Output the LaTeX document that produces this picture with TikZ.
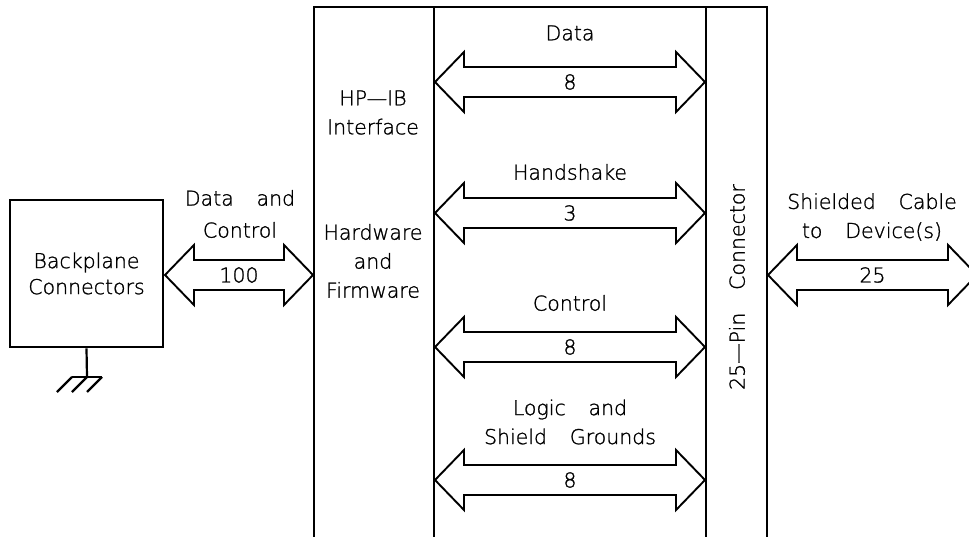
\documentclass[tikz,border=0pt]{standalone}
\usepackage{fontspec}
\IfFontExistsTF{DejaVu Sans ExtraLight}
  {\setmainfont{DejaVu Sans ExtraLight}[WordSpace=3.5, FakeBold=1.2]}
  {\setmainfont{DejaVu Sans}[WordSpace=3.5]}
\usetikzlibrary{calc}
\tikzset{
  wall/.style={line width=2.8pt, line cap=rect},
  bus/.style={line width=1.9pt, line join=miter},
  lbl/.style={inner sep=0pt, align=center, font=\fontsize{20.5}{29}\selectfont},
  boxnode/.style={draw, line width=2.8pt, minimum width=153pt, minimum height=147pt,
    inner sep=0pt, align=center, font=\fontsize{20.5}{26}\selectfont},
  gnd/.style={line width=2.2pt}
}
\newcommand{\busarrow}[3]{%
  \draw[bus] let \p1=(#1), \p2=(#2) in
    (\x1,\y1) -- (\x1+29pt,\y1+30pt) -- (\x1+29pt,\y1+15pt)
    -- (\x2-29pt,\y2+15pt) -- (\x2-29pt,\y2+30pt) -- (\x2,\y2)
    -- (\x2-29pt,\y2-30pt) -- (\x2-29pt,\y2-15pt)
    -- (\x1+29pt,\y1-15pt) -- (\x1+29pt,\y1-30pt) -- cycle;
  \path (#1) -- node[lbl]{#3} (#2);}
\begin{document}
\begin{tikzpicture}[x=1pt, y=-1pt]
\useasboundingbox (0,0) rectangle (969,537);
\fill[white] (0,0) rectangle (969,537);

% interface frame
\coordinate (ifl) at (314,7);
\coordinate (ifr) at (767,7);
\draw[wall] (314,545) -- (ifl) -- (ifr) -- (767,545);
\draw[wall] (434,7) -- (434,545);
\draw[wall] (706,7) -- (706,545);

% backplane box
\node[boxnode] (bp) at (86.5,273.5) {Backplane\\Connectors};

% ground
\coordinate (g0) at (87,377);
\draw[gnd] (bp.south) -- (g0);
\draw[gnd] (72,377) -- (102,377);
\draw[gnd] (72,377) -- (57,392);
\draw[gnd] (87,377) -- (72,392);
\draw[gnd] (102,377) -- (87,392);

% backplane bus
\coordinate (b1) at (165,275);
\coordinate (b2) at (313,275);
\busarrow{b1}{b2}{100}
\node[lbl] (dc) at (240,214) {Data and\\[3pt]Control};

% interface texts
\node[lbl] (hp) at (373,112.5) {HP—IB\\Interface};
\node[lbl] (hw) at (373,261) {Hardware\\and\\Firmware};

% internal buses
\coordinate (d1) at (435,82);  \coordinate (d2) at (705,82);
\busarrow{d1}{d2}{8}
\node[lbl] (dl) at (570,33) {Data};

\coordinate (h1) at (435,213); \coordinate (h2) at (705,213);
\busarrow{h1}{h2}{3}
\node[lbl] (hl) at (570,172) {Handshake};

\coordinate (c1) at (435,347); \coordinate (c2) at (705,347);
\busarrow{c1}{c2}{8}
\node[lbl] (cl) at (570,303) {Control};

\coordinate (l1) at (435,480); \coordinate (l2) at (705,480);
\busarrow{l1}{l2}{8}
\node[lbl] (ll) at (570,422) {Logic and\\Shield Grounds};

% connector
\node[lbl, rotate=90] (pin) at (737,287) {25—Pin Connector};

% cable
\coordinate (s1) at (768,275);
\coordinate (s2) at (977,275);
\busarrow{s1}{s2}{25}
\node[lbl] (sc) at (872,217) {Shielded Cable\\to Device(s)};
\end{tikzpicture}
\end{document}
